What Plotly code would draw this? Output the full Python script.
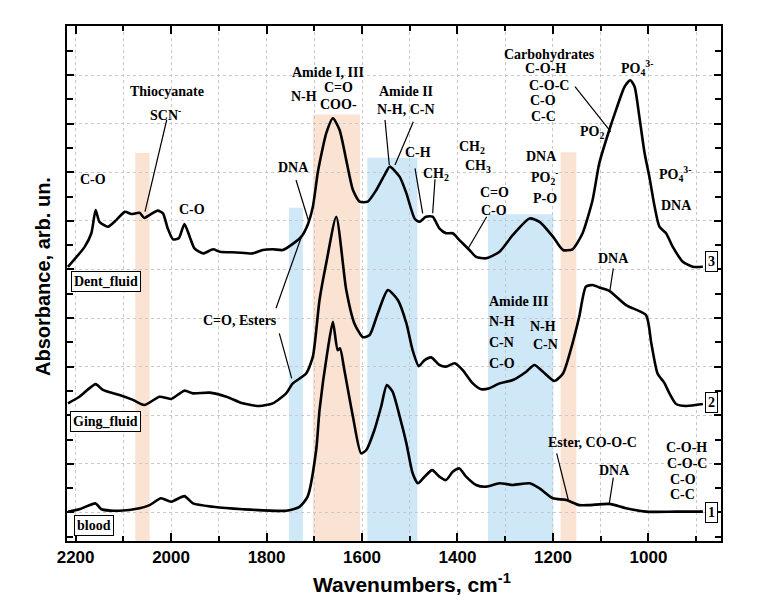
import plotly.graph_objects as go

# ---------------- data (wavenumber, cm-1 ; absorbance, arb. units incl. stacking offset) -------------
wn_dent = [2216, 2181, 2167, 2158, 2150, 2132, 2115, 2097, 2083, 2066, 2056, 2045, 2028, 2017, 2007,
           1996, 1984, 1972, 1961, 1951, 1933, 1912, 1898, 1863, 1829, 1808, 1787, 1766, 1745, 1727,
           1714, 1703, 1693, 1689, 1675, 1661, 1647, 1633, 1619, 1605, 1588, 1570, 1553, 1542, 1521,
           1507, 1490, 1480, 1466, 1452, 1438, 1424, 1410, 1396, 1375, 1361, 1340, 1312, 1284, 1249,
           1228, 1200, 1179, 1159, 1138, 1117, 1103, 1082, 1068, 1050, 1038, 1029, 1019, 1008, 998,
           987, 977, 963, 949, 928, 907, 886]
abs_dent = [11.11, 11.93, 12.49, 13.44, 12.96, 12.76, 13.03, 13.37, 13.28, 13.33, 13.12, 13.24, 13.42, 13.31, 12.69,
            12.24, 12.28, 12.87, 12.35, 11.87, 11.66, 11.83, 11.73, 11.70, 11.66, 11.80, 11.83, 11.80, 12.05, 12.35,
            12.83, 13.58, 14.95, 15.37, 16.60, 17.22, 16.74, 15.50, 14.27, 13.79, 13.79, 14.27, 14.88, 15.23, 14.81,
            14.13, 13.10, 12.96, 13.17, 13.17, 12.69, 12.49, 12.49, 12.21, 11.80, 11.52, 11.46, 11.73, 12.42, 13.10,
            12.96, 12.35, 11.80, 11.83, 12.49, 13.86, 15.37, 16.74, 17.56, 18.52, 18.79, 18.52, 17.28, 15.78, 14.81,
            13.58, 12.76, 12.49, 11.93, 11.32, 11.11, 11.11]

wn_ging = [2216, 2192, 2158, 2143, 2108, 2080, 2056, 2024, 2000, 1972, 1954, 1919, 1884, 1850, 1815,
           1787, 1759, 1745, 1717, 1703, 1689, 1675, 1654, 1633, 1616, 1598, 1584, 1567, 1546, 1525,
           1507, 1494, 1481, 1469, 1455, 1438, 1424, 1406, 1389, 1368, 1350, 1333, 1312, 1284, 1256,
           1239, 1221, 1197, 1179, 1159, 1145, 1131, 1117, 1103, 1082, 1047, 1005, 994, 981, 967,
           956, 942, 921, 886]
abs_ging = [5.49, 5.76, 6.28, 6.04, 5.83, 5.63, 5.42, 5.76, 5.67, 6.01, 5.90, 5.93, 5.76, 5.49, 5.38,
            5.49, 5.90, 6.31, 6.72, 7.41, 9.74, 11.25, 13.17, 10.15, 8.78, 8.21, 8.30, 9.19, 10.15, 9.74,
            8.78, 7.68, 7.02, 7.27, 7.38, 7.07, 7.00, 7.14, 6.86, 6.31, 6.07, 6.11, 6.31, 6.45, 6.79,
            7.07, 6.79, 6.41, 6.72, 7.96, 9.05, 10.29, 10.36, 10.26, 10.12, 9.53, 9.12, 7.96, 6.72, 6.34,
            5.90, 5.46, 5.38, 5.46]

wn_blood = [2216, 2192, 2158, 2146, 2108, 2066, 2045, 2021, 2000, 1972, 1954, 1912, 1850, 1759, 1731,
            1714, 1696, 1689, 1672, 1661, 1651, 1646, 1637, 1619, 1602, 1591, 1574, 1560, 1548, 1536,
            1521, 1507, 1494, 1483, 1469, 1453, 1438, 1424, 1410, 1396, 1382, 1361, 1340, 1312, 1284,
            1249, 1228, 1200, 1172, 1145, 1124, 1082, 1047, 1005, 942, 886]
abs_blood = [1.03, 1.13, 1.37, 1.13, 1.07, 1.17, 1.30, 1.58, 1.44, 1.67, 1.37, 1.23, 1.13, 1.07, 1.23,
             1.65, 3.57, 5.21, 7.68, 8.85, 7.68, 7.75, 6.86, 4.94, 3.43, 3.57, 4.39, 5.35, 6.24, 5.97,
             4.94, 3.84, 2.61, 2.20, 2.47, 2.74, 2.47, 2.33, 2.67, 2.81, 2.47, 2.13, 2.06, 2.20, 2.13,
             2.20, 1.99, 1.58, 1.51, 1.30, 1.30, 1.35, 1.17, 1.03, 1.03, 1.03]

# shaded assignment bands: (high wn, low wn, top level, kind)
band_hi = [2075, 1753, 1703, 1589, 1336, 1184]
band_lo = [2045, 1724, 1604, 1484, 1199, 1151]
band_top = [15.79, 13.54, 17.38, 15.60, 13.27, 15.82]
band_kind = ["orange", "blue", "orange", "blue", "blue", "orange"]

x_ticks = [2200, 2000, 1800, 1600, 1400, 1200, 1000]
X_RANGE = [2218, 848]
Y_RANGE = [-0.177, 21.02]

# ---------------- figure ----------------
fig = go.Figure()
for wx, ay in [(wn_dent, abs_dent), (wn_ging, abs_ging), (wn_blood, abs_blood)]:
    fig.add_trace(go.Scatter(x=wx, y=ay, mode="lines",
                             line=dict(color="black", width=2.6, shape="spline", smoothing=0.6),
                             showlegend=False, hoverinfo="skip"))

colors = {"orange": "#FBE3D3", "blue": "#CFE8F8"}
for hi, lo, top, kind in zip(band_hi, band_lo, band_top, band_kind):
    fig.add_shape(type="rect", xref="x", yref="y", x0=hi, x1=lo, y0=Y_RANGE[0], y1=top,
                  fillcolor=colors[kind], line=dict(width=0), layer="below")

# page body has an 8px margin; plot area in window pixels:
OFF = 8
W, H = 784 - OFF, 611 - OFF
L, R, T, B = 67, 721, 26, 541
def P(px, py):
    return (px - L) / (R - L), (B - py) / (B - T)

serif = dict(family="Liberation Serif, Times New Roman, serif", size=14, color="black", weight="bold")

labels = [
    ("Thiocyanate", 166.7, 91.7), ("SCN<sup>-</sup>", 165, 114),
    ("C-O", 93.3, 179.3), ("C-O", 191.7, 209.3), ("DNA", 293.3, 167.3),
    ("Amide I, III", 328, 72.3), ("C=O", 338.3, 87.7), ("N-H", 304, 96.7), ("COO-", 338.3, 104.3),
    ("Amide II", 406, 91.7), ("N-H, C-N", 406, 109.3), ("C-H", 418.3, 152.7), ("CH<sub>2</sub>", 436, 174),
    ("CH<sub>2</sub>", 471.7, 147), ("CH<sub>3</sub>", 478.3, 166), ("C=O", 494.3, 192.7), ("C-O", 494.3, 210.7),
    ("Carbohydrates", 549.3, 54.3), ("C-O-H", 545, 68.7), ("C-O-C", 549.3, 85.7), ("C-O", 543.3, 100.7),
    ("C-C", 543.3, 116), ("DNA", 541.7, 156.7), ("PO<sub>2</sub><sup>-</sup>", 545, 177), ("P-O", 545, 198.3),
    ("PO<sub>2</sub>", 592, 133), ("PO<sub>4</sub><sup>3-</sup>", 637, 68.5),
    ("PO<sub>4</sub><sup>3-</sup>", 675, 174.5), ("DNA", 676.7, 205.7),
    ("DNA", 613.3, 259), ("C=O, Esters", 240, 320),
    ("Amide III", 519.3, 301.7), ("N-H", 501.7, 321.7), ("C-N", 501.7, 342.7), ("C-O", 502.3, 363.3),
    ("N-H", 542.7, 326), ("C-N", 545, 344),
    ("Ester, CO-O-C", 592.5, 442.3), ("DNA", 614.3, 470.7),
    ("C-O-H", 686.7, 447.7), ("C-O-C", 686.7, 463.3), ("C-O", 682.7, 479.3), ("C-C", 682.7, 494.3),
]
for text, px, py in labels:
    xp, yp = P(px, py)
    fig.add_annotation(text=text, x=xp, y=yp, xref="paper", yref="paper", showarrow=False,
                       xanchor="center", yanchor="middle", font=serif)

boxed = [("Dent_fluid", 105.5, 281.7), ("Ging_fluid", 105.5, 421), ("blood", 93.5, 525.5),
         ("3", 711, 261.5), ("2", 711, 402.5), ("1", 711, 512.5)]
for text, px, py in boxed:
    xp, yp = P(px, py)
    fig.add_annotation(text=text, x=xp, y=yp, xref="paper", yref="paper", showarrow=False,
                       xanchor="center", yanchor="middle", font=serif,
                       bordercolor="black", borderwidth=1, borderpad=2, bgcolor="white")

leaders = [
    (166.7, 120, 145, 211.7), (296, 180, 308.3, 220),
    (385, 120, 389.3, 165), (413.3, 121.7, 395, 165),
    (415, 168.3, 422.7, 213.3), (435, 179.3, 432.7, 213.3),
    (486.7, 216.7, 468.3, 248.3), (575, 86.7, 610.7, 131.7),
    (613.3, 268.3, 610, 290), (301, 238, 276, 308.3), (279.3, 333.3, 291.7, 378.3),
    (556.7, 453.3, 568.3, 500), (613.3, 477.7, 609.3, 503.3),
]
for x0, y0, x1, y1 in leaders:
    a, b = P(x0, y0)
    c, d = P(x1, y1)
    fig.add_shape(type="line", xref="paper", yref="paper", x0=a, y0=b, x1=c, y1=d,
                  line=dict(color="black", width=1.2))

grid = dict(showgrid=True, gridcolor="#c9c9c9", griddash="dot", gridwidth=1)
fig.update_xaxes(range=X_RANGE, tickvals=x_ticks, ticktext=[str(v) for v in x_ticks],
                 ticks="inside", ticklen=8, tickwidth=2, tickcolor="black",
                 showline=True, linecolor="black", linewidth=2, mirror="ticks",
                 tickfont=dict(family="Liberation Sans, Arial, sans-serif", size=17, color="black", weight="bold"),
                 minor=dict(dtick=100, tick0=2200, ticks="inside", ticklen=5, tickwidth=2, tickcolor="black",
                            showgrid=True, gridcolor="#c9c9c9", griddash="dot"),
                 zeroline=False, **grid)
fig.update_yaxes(range=Y_RANGE, tick0=1, dtick=2, showticklabels=False,
                 ticks="inside", ticklen=7, tickwidth=2, tickcolor="black",
                 showline=True, linecolor="black", linewidth=2, mirror="ticks",
                 minor=dict(dtick=1, tick0=0, ticks="inside", ticklen=6, tickwidth=2, tickcolor="black",
                            showgrid=False),
                 zeroline=False, **grid)

fig.add_annotation(text="Wavenumbers, cm<sup>-1</sup>", x=P(412, 0)[0], y=P(0, 583)[1], xref="paper", yref="paper",
                   showarrow=False, xanchor="center", yanchor="middle",
                   font=dict(family="Liberation Sans, Arial, sans-serif", size=21, color="black", weight="bold"))
fig.add_annotation(text="Absorbance, arb. un.", x=P(43, 0)[0], y=P(0, 277)[1], xref="paper", yref="paper",
                   showarrow=False, xanchor="center", yanchor="middle", textangle=-90,
                   font=dict(family="Liberation Sans, Arial, sans-serif", size=20, color="black", weight="bold"))

fig.update_layout(width=W, height=H,
                  margin=dict(l=L - OFF, r=W - (R - OFF), t=T - OFF, b=H - (B - OFF)),
                  plot_bgcolor="white", paper_bgcolor="white", showlegend=False)
fig.write_html("out.html")
